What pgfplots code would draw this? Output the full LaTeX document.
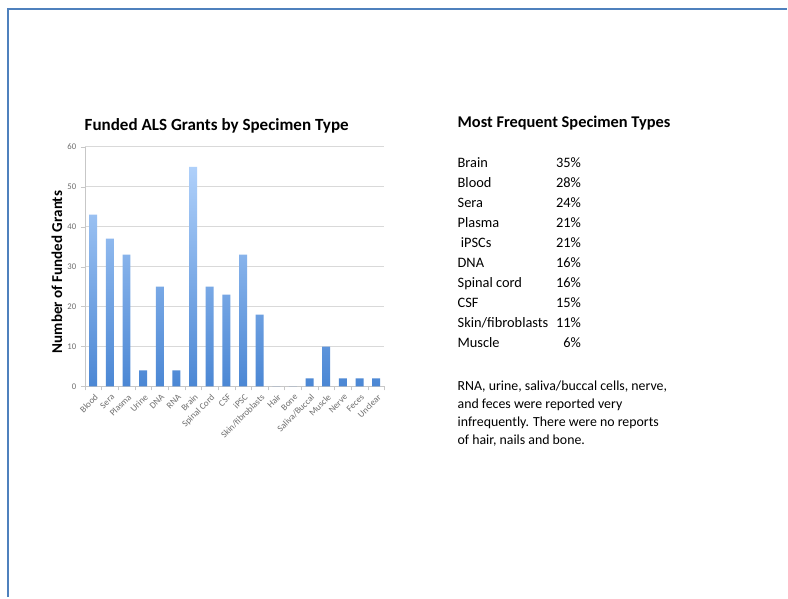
\documentclass[border=0pt]{standalone}
\usepackage{pgfplots}
\pgfplotsset{compat=1.18}
\usepackage{fontspec}
\setmainfont{Carlito}
\definecolor{frameblue}{RGB}{79,129,189}
\definecolor{barlight}{RGB}{175,208,250}
\definecolor{bardark}{RGB}{75,135,212}
\definecolor{gridgray}{RGB}{217,217,217}
\definecolor{ticktext}{RGB}{110,110,110}
\begin{document}
\begin{tikzpicture}[x=0.75pt,y=0.75pt]
% canvas 788 x 598 px, y measured upward: ty = 598 - py
\path[fill=white] (0,0) rectangle (788,598);
\draw[frameblue,line width=1.6pt] (8,0) -- (8,589) -- (788,589);
\begin{axis}[
  at={(63.75pt,158.25pt)}, anchor=south west,
  scale only axis, width=225pt, height=180pt,
  xmin=-0.5, xmax=17.5, ymin=0, ymax=60,
  ytick={0,10,...,60},
  xtick={0,...,17},
  xticklabels={Blood,Sera,Plasma,Urine,DNA,RNA,Brain,Spinal Cord,CSF,iPSC,Skin/fibroblasts,Hair,Bone,Saliva/Buccal,Muscle,Nerve,Feces,Unclear},
  x tick label style={rotate=45, anchor=north east, font=\fontsize{6.8}{8}\selectfont, text=ticktext, inner sep=1pt, yshift=-1pt},
  y tick label style={font=\fontsize{6.5}{7}\selectfont, text=ticktext},
  /pgf/number format/assume math mode=true,
  minor xtick={-0.5,0.5,...,17.5},
  major x tick style={draw=none},
  minor x tick style={draw=gridgray!80!gray},
  y tick style={draw=gridgray!80!gray},
  tick align=outside, major tick length=3pt, minor tick length=3pt,
  axis x line*=bottom, axis y line*=left,
  axis line style={draw=gridgray!80!gray, -},
  ymajorgrids, grid style={draw=gridgray, line width=0.8pt},
  ylabel={\textbf{Number of Funded Grants}},
  ylabel style={font=\fontsize{11.3}{12}\selectfont, at={(-21pt,86pt)}, anchor=center},
  title={\textbf{Funded ALS Grants by Specimen Type}},
  title style={font=\fontsize{12.8}{14}\selectfont, at={(0.44,1)}, anchor=base, yshift=6pt},
  bar width=6pt,
]
\addplot[ybar, draw=none, top color=barlight, bottom color=bardark] coordinates {
(0,43) (1,37) (2,33) (3,4) (4,25) (5,4) (6,55) (7,25) (8,23) (9,33)
(10,18) (11,0) (12,0) (13,2) (14,10) (15,2) (16,2) (17,2)};
\end{axis}
% right panel
\node[anchor=base west, inner sep=0, font=\fontsize{12.3}{14}\selectfont\bfseries] at (458,470) {Most Frequent Specimen Types};
\begin{scope}[every node/.style={inner sep=0, font=\fontsize{10.8}{13}\selectfont}]
\node[anchor=base west] at (458,430) {Brain};            \node[anchor=base east] at (582,430) {35\%};
\node[anchor=base west] at (458,410) {Blood};            \node[anchor=base east] at (582,410) {28\%};
\node[anchor=base west] at (458,390) {Sera};             \node[anchor=base east] at (582,390) {24\%};
\node[anchor=base west] at (458,370) {Plasma};           \node[anchor=base east] at (582,370) {21\%};
\node[anchor=base west] at (458,350) {\ iPSCs};          \node[anchor=base east] at (582,350) {21\%};
\node[anchor=base west] at (458,330) {DNA};              \node[anchor=base east] at (582,330) {16\%};
\node[anchor=base west] at (458,310) {Spinal cord};      \node[anchor=base east] at (582,310) {16\%};
\node[anchor=base west] at (458,290) {CSF};              \node[anchor=base east] at (582,290) {15\%};
\node[anchor=base west] at (458,270) {Skin/fibroblasts}; \node[anchor=base east] at (582,270) {11\%};
\node[anchor=base west] at (458,250) {Muscle};           \node[anchor=base east] at (582,250) {6\%};
\end{scope}
\begin{scope}[every node/.style={inner sep=0, anchor=base west, font=\fontsize{10.4}{13}\selectfont}]
\node at (458,207) {RNA, urine, saliva/buccal cells, nerve,};
\node at (458,189) {and feces were reported very};
\node at (458,171) {infrequently. There were no reports};
\node at (458,153) {of hair, nails and bone.};
\end{scope}
\end{tikzpicture}
\end{document}
